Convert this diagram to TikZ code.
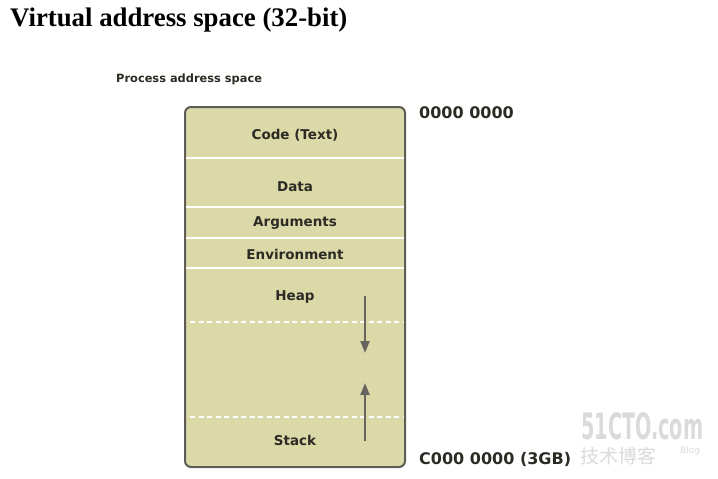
\documentclass[tikz,border=0pt]{standalone}
\usepackage{fontspec}
\usepackage{graphicx}
\setmainfont{Liberation Serif}
\newfontfamily\labfont{DejaVu Sans}
\newfontfamily\cjkfont{Noto Sans CJK SC}
\usetikzlibrary{arrows.meta}
\definecolor{khaki}{HTML}{DCD9A9}
\definecolor{frame}{HTML}{5E5D55}
\definecolor{ink}{HTML}{2B2B24}
\definecolor{arrowgray}{HTML}{65645E}
\definecolor{wm}{HTML}{DADADA}
\begin{document}
\begin{tikzpicture}[x=1pt,y=-1pt,
  seglabel/.style={font=\labfont\bfseries\fontsize{13.5}{16}\selectfont, text=ink, inner sep=0pt},
  addr/.style={font=\labfont\bfseries\fontsize{16}{18}\selectfont, text=ink, inner sep=0pt, anchor=west},
  solidsep/.style={white, line width=1.3pt},
  dashsep/.style={white, line width=1.3pt, dash pattern=on 5pt off 3.5pt},
  growarrow/.style={arrowgray, line width=1.8pt, -{Triangle[length=12pt,width=9pt]}}]
\useasboundingbox (0,0) rectangle (718,479);
\node[anchor=base west, inner sep=0pt, font=\bfseries\fontsize{26.8}{30}\selectfont] (title) at (10,26) {Virtual address space (32-bit)};
\node[anchor=base west, inner sep=0pt, font=\labfont\bfseries\fontsize{11.4}{14}\selectfont, text=ink] (pas) at (116,82) {Process address space};
% box
\draw[frame, fill=khaki, line width=2pt, rounded corners=6pt] (185,107) rectangle (405,467);
\coordinate (L1) at (186,158); \coordinate (R1) at (404,158);
\coordinate (L2) at (186,207); \coordinate (R2) at (404,207);
\coordinate (L3) at (186,238); \coordinate (R3) at (404,238);
\coordinate (L4) at (186,268); \coordinate (R4) at (404,268);
\coordinate (L5) at (190,322); \coordinate (R5) at (404,322);
\coordinate (L6) at (190,417); \coordinate (R6) at (404,417);
\draw[solidsep] (L1) -- (R1);
\draw[solidsep] (L2) -- (R2);
\draw[solidsep] (L3) -- (R3);
\draw[solidsep] (L4) -- (R4);
\draw[dashsep] (L5) -- (R5);
\draw[dashsep] (L6) -- (R6);
\node[seglabel] (code) at (295,135) {Code (Text)};
\node[seglabel] (data) at (295,187) {Data};
\node[seglabel] (args) at (295,223) {Arguments};
\node[seglabel] (env) at (295,254) {Environment};
\node[seglabel] (heap) at (295,297) {Heap};
\node[seglabel] (stack) at (295,440) {Stack};
\coordinate (h1) at (365,296); \coordinate (h2) at (365,353);
\coordinate (s1) at (365,441); \coordinate (s2) at (365,383);
\draw[growarrow] (h1) -- (h2);
\draw[growarrow] (s1) -- (s2);
\node[addr] (a0) at (419,113) {0000 0000};
\node[addr] (a1) at (419,459) {C000 0000 (3GB)};
% watermark
\node[anchor=west, inner sep=0pt, text=wm, font=\labfont\bfseries\fontsize{30}{32}\selectfont] (wm1) at (581,426) {\resizebox{122pt}{27pt}{51CTO.com}};
\node[anchor=west, inner sep=0pt, text=wm, font=\cjkfont\fontsize{19}{20}\selectfont] (wm2) at (580,456) {技术博客};
\node[anchor=west, inner sep=0pt, text=wm, font=\labfont\fontsize{9}{11}\selectfont] (wm3) at (680,451) {Blog};
\end{tikzpicture}
\end{document}
